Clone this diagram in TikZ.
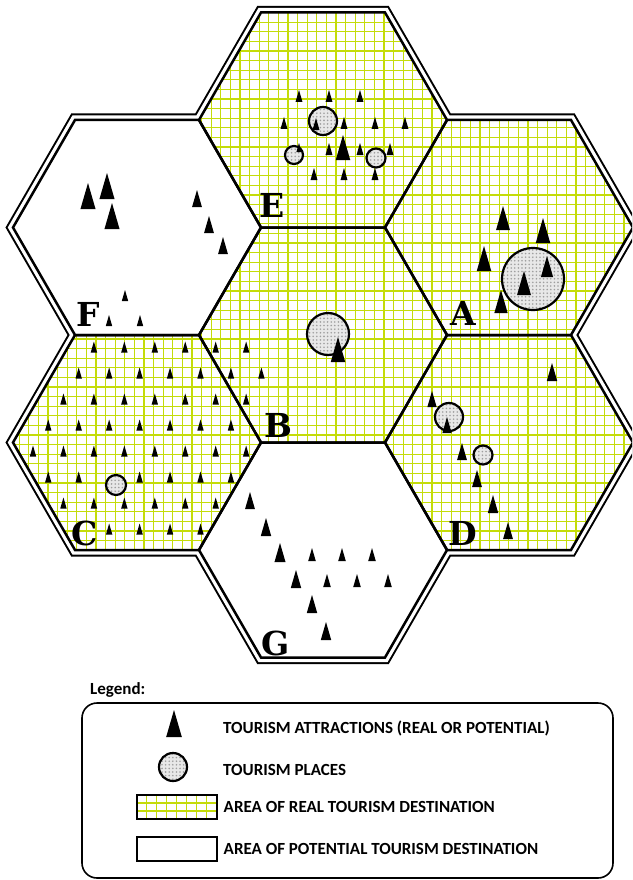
\documentclass[tikz,border=0pt]{standalone}
\usepackage{fontspec}
\setmainfont{DejaVu Serif}
\newfontfamily\legendfont{Carlito}
\usetikzlibrary{positioning,patterns.meta}
\definecolor{gridgreen}{RGB}{196,220,10}
\definecolor{placegray}{RGB}{232,232,232}

% flat-top hexagon round a centre, R = 124
\newcommand{\hexagon}[2]{(#1+124,#2) -- (#1+62,#2+107.5) -- (#1-62,#2+107.5) -- (#1-124,#2) -- (#1-62,#2-107.5) -- (#1+62,#2-107.5) -- cycle}
% outline of the whole cluster
\newcommand{\cluster}{(261,12.5) -- (385,12.5) -- (447,120) -- (571,120) -- (633,227.5) -- (571,335) -- (633,442.5) -- (571,550) -- (447,550) -- (385,657.5) -- (261,657.5) -- (199,550) -- (75,550) -- (13,442.5) -- (75,335) -- (13,227.5) -- (75,120) -- (199,120) -- cycle}
% attraction: x, base y, height
\newcommand{\spike}[3]{\fill (#1-0.29*#3,#2) -- (#1,#2-#3) -- (#1+0.29*#3,#2) -- cycle;}
% place: x, y, radius
\newcommand{\place}[3]{%
  \fill[placegray] (#1,#2) circle[radius=#3];
  \fill[pattern={Dots[radius=0.9pt, distance=3.6pt]}, pattern color=gray!75] (#1,#2) circle[radius=#3];
  \draw[line width=2.2pt] (#1,#2) circle[radius=#3];}

\begin{document}
\begin{tikzpicture}[x=1pt, y=-1pt,
    hexborder/.style={line width=2.5pt, line join=miter},
    gridline/.style={gridgreen, line width=1.3pt},
    hexlabel/.style={font=\fontsize{33}{33}\selectfont\bfseries, inner sep=0pt},
    legendtext/.style={font=\legendfont\bfseries\fontsize{17}{19}\selectfont, anchor=base west, inner sep=0pt},
    swatch/.style={draw, line width=2pt, minimum width=80pt, minimum height=24pt, inner sep=0pt}
]
\clip (0,0) rectangle (632,880);
\fill[white] (0,0) rectangle (632,880);

% double border round the cluster
\draw[line width=13pt, line join=miter] \cluster;
\draw[white, line width=9pt, line join=miter] \cluster;

% potential areas F, G
\fill[white] \hexagon{137}{227.5} \hexagon{323}{550};
% real areas E, A, B, C, D
\begin{scope}
  \clip \hexagon{323}{120} \hexagon{509}{227.5} \hexagon{323}{335} \hexagon{137}{442.5} \hexagon{509}{442.5};
  \fill[white] (0,0) rectangle (640,670);
  \foreach \g in {0,9.6,...,640} {\draw[gridline] (\g,0) -- (\g,670);}
  \foreach \g in {3,12.6,...,664} {\draw[gridline] (0,\g) -- (640,\g);}
\end{scope}
\foreach \cx/\cy in {323/120, 509/227.5, 509/442.5, 323/550, 137/442.5, 137/227.5, 323/335}
  {\draw[hexborder] \hexagon{\cx}{\cy};}

% tourism places
\place{323}{121}{14}
\place{294}{155}{9}
\place{376}{158}{9.5}
\place{533}{279}{31}
\place{328}{334}{21}
\place{116}{485}{10}
\place{449}{417}{14}
\place{483}{455}{9.5}

% E
\foreach \x/\y in {299/102, 329/102, 360/102, 284/129, 344/129, 375/129, 405/129,
                   329/155, 360/155, 390/155, 314/180, 344/180, 375/180}
  {\spike{\x}{\y}{12}}
\spike{343}{160}{25}
\spike{316}{130}{12}
\spike{299}{152}{9}
% F
\foreach \x/\y in {88/209, 107/199, 112/229} {\spike{\x}{\y}{26}}
\foreach \x/\y in {197/207, 209/233, 223/254} {\spike{\x}{\y}{17}}
\foreach \x/\y in {125/301, 109/326, 140/326} {\spike{\x}{\y}{11}}
% A
\foreach \x/\y/\h in {503/230/24, 543/243/25, 484/271/25, 547/277/21, 524/295/24, 501/313/23}
  {\spike{\x}{\y}{\h}}
% B
\spike{338}{362}{25}
% C lattice (runs into B)
\foreach \k/\ja/\jb in {0/2/7, 1/1/7, 2/1/7, 3/0/6, 4/0/7, 5/0/1, 5/3/6, 6/1/6, 7/2/5}
  {\foreach \j in {\ja,...,\jb} {
    \pgfmathsetmacro\xx{33+15.25*mod(\k,2)+30.45*\j}
    \pgfmathsetmacro\yy{352.5+26*\k}
    \spike{\xx}{\yy}{11}
  }}
% D
\foreach \x/\y/\h in {552/381/18, 432/407/16, 447/433/16, 462/460/17, 477/487/17, 493/513/18, 508/539/17}
  {\spike{\x}{\y}{\h}}
% G
\foreach \x/\y/\h in {250/509/17, 266/536/18, 280/562/19, 296/588/18, 312/613/18, 326/640/18,
                      312/561/13, 342/561/13, 372/561/13, 327/587/13, 357/587/13, 388/587/13}
  {\spike{\x}{\y}{\h}}

% area letters
\node[hexlabel] (labE) at (272.5,205.5) {E};
\node[hexlabel] (labF) at (88,314) {F};
\node[hexlabel] (labA) at (463,313) {A};
\node[hexlabel] (labB) at (278,425) {B};
\node[hexlabel] (labC) at (85,533) {C};
\node[hexlabel] (labD) at (463,533) {D};
\node[hexlabel] (labG) at (276,643) {G};

% legend
\node[legendtext] (legtitle) at (90,694) {Legend:};
\draw[line width=1.6pt, rounded corners=15pt] (82,703) rectangle (613,878);
\spike{174}{737}{27}
\node[legendtext] (attrtext) at (223,733) {TOURISM ATTRACTIONS (REAL OR POTENTIAL)};
\place{173}{767}{14}
\node[legendtext] (placetext) at (223,775) {TOURISM PLACES};
\node[swatch, path picture={
    \foreach \g in {-30,-20,...,30}
      {\draw[gridline] ([xshift=\g pt]path picture bounding box.north) -- ([xshift=\g pt]path picture bounding box.south);}
    \foreach \g in {-4,4}
      {\draw[gridline] ([yshift=\g pt]path picture bounding box.west) -- ([yshift=\g pt]path picture bounding box.east);}
  }] (realbox) at (176.5,807) {};
\node[legendtext, anchor=west, right=6pt of realbox] (realtext) {AREA OF REAL TOURISM DESTINATION};
\node[swatch] (potbox) at (176.5,848.5) {};
\node[legendtext, anchor=west, right=6pt of potbox] (pottext) {AREA OF POTENTIAL TOURISM DESTINATION};
\end{tikzpicture}
\end{document}
